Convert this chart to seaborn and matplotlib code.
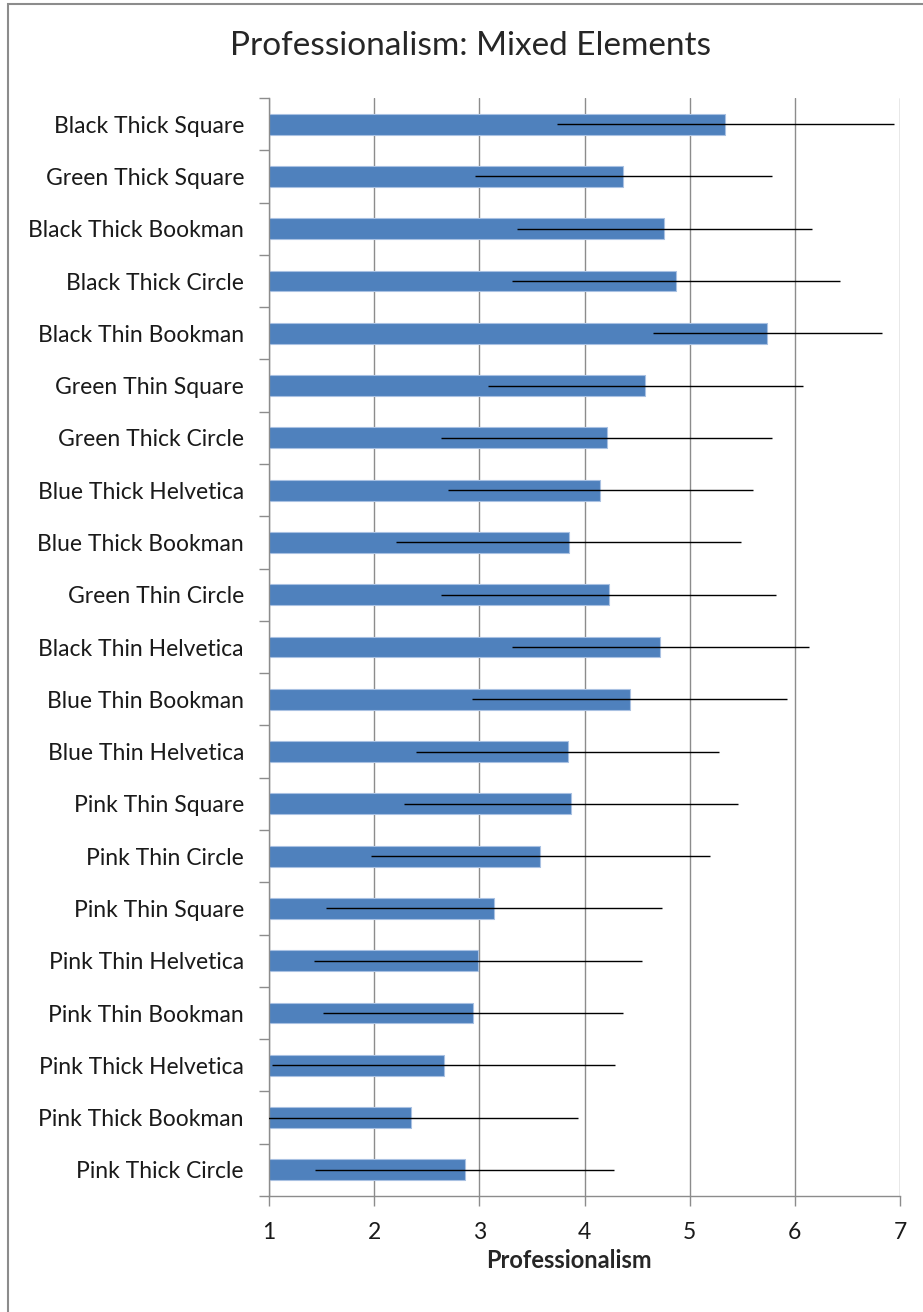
import matplotlib
matplotlib.use("Agg")
import matplotlib.pyplot as plt
import seaborn as sns
import pandas as pd
from matplotlib.patches import Rectangle

# datos (orden de arriba hacia abajo)
etiquetas = [
    "Black Thick Square", "Green Thick Square", "Black Thick Bookman",
    "Black Thick Circle", "Black Thin Bookman", "Green Thin Square",
    "Green Thick Circle", "Blue Thick Helvetica", "Blue Thick Bookman",
    "Green Thin Circle", "Black Thin Helvetica", "Blue Thin Bookman",
    "Blue Thin Helvetica", "Pink Thin Square", "Pink Thin Circle",
    "Pink Thin Square", "Pink Thin Helvetica", "Pink Thin Bookman",
    "Pink Thick Helvetica", "Pink Thick Bookman", "Pink Thick Circle",
]
medias = [5.34, 4.37, 4.76, 4.87, 5.74, 4.58, 4.21, 4.15, 3.85, 4.23, 4.72,
          4.43, 3.84, 3.87, 3.58, 3.14, 2.99, 2.94, 2.66, 2.35, 2.86]
errores = [1.60, 1.41, 1.40, 1.56, 1.09, 1.50, 1.57, 1.45, 1.64, 1.59, 1.41,
           1.50, 1.44, 1.59, 1.61, 1.60, 1.56, 1.43, 1.63, 1.59, 1.42]
ticks_x = [1, 2, 3, 4, 5, 6, 7]

# hay una etiqueta repetida (Pink Thin Square), se usa una clave unica por fila
df = pd.DataFrame({"Etiqueta": etiquetas, "Media": medias, "Error": errores})
df["Fila"] = [f"{i:02d}" for i in range(len(df))]

sns.set_style("white")
plt.rcParams["font.family"] = ["Lato", "DejaVu Sans"]

fig = plt.figure(figsize=(9.23, 13.12), dpi=100)
ax = fig.add_axes([269 / 923, 1 - 1196 / 1312, 631 / 923, 1098 / 1312])

gris = "#8c8c8c"
sns.barplot(data=df, x="Media", y="Fila", order=list(df["Fila"]), orient="h",
            color="#4f81bd", saturation=1, width=0.4, edgecolor="#a9c1e2",
            linewidth=0.8, errorbar=None, ax=ax, zorder=2)
ax.errorbar(df["Media"], range(len(df)), xerr=df["Error"], fmt="none",
            ecolor="black", elinewidth=1, capsize=0, zorder=3)

ax.set_xlim(1, 7)
ax.set_ylim(len(df) - 0.5, -0.5)
ax.set_yticks(range(len(df)))
ax.set_yticklabels(etiquetas, color="#1a1a1a")
ax.set_xticks(ticks_x)
ax.set_xticklabels([str(t) for t in ticks_x], fontsize=16.5, color="#1a1a1a")
ax.grid(axis="x", color=gris, linewidth=1, zorder=0)
ax.set_axisbelow(True)

# ticks del eje y entre categorias
ax.set_yticks([i - 0.5 for i in range(len(df) + 1)], minor=True)
ax.tick_params(axis="y", which="major", length=0, pad=18, labelsize=16.5)
ax.tick_params(axis="y", which="minor", left=True, length=7, color=gris, width=1)
ax.tick_params(axis="x", which="major", bottom=True, length=7, color=gris, width=1,
               labelsize=16.5, pad=12)

for lado in ["top", "right"]:
    ax.spines[lado].set_visible(False)
for lado in ["left", "bottom"]:
    ax.spines[lado].set_color(gris)
    ax.spines[lado].set_linewidth(1)

ax.set_ylabel("")
ax.set_xlabel("Professionalism", fontsize=17, fontweight="bold", va="center")
ax.xaxis.set_label_coords((569 - 269) / 631, -(1261 - 1196) / 1098)

fig.text(471 / 923, 1 - 46 / 1312, "Professionalism: Mixed Elements",
         ha="center", va="center", fontsize=24)

# borde del area del grafico (solo se ven los lados izquierdo y superior)
fig.patches.append(Rectangle((8 / 923, -0.05), 1.1, 1.05 - 4 / 1312,
                             transform=fig.transFigure, fill=False,
                             edgecolor="#8c8c8c", linewidth=1.5))

fig.savefig("out.png", dpi=100)
